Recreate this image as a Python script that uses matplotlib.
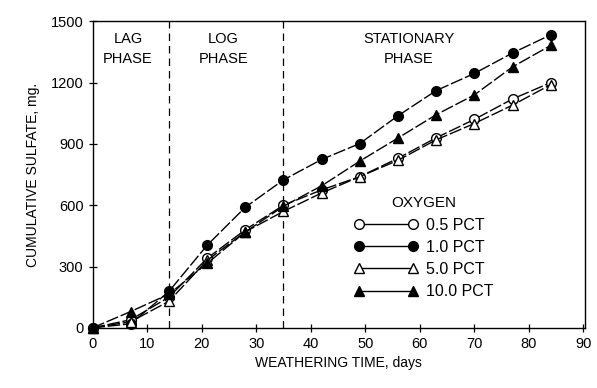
import numpy as np
import matplotlib.pyplot as plt

plt.rcParams['font.family'] = ['Liberation Sans', 'DejaVu Sans']

### DATA ###
days = [0, 7, 14, 21, 28, 35, 42, 49, 56, 63, 70, 77, 84]
pct_05 = [0, 40, 150, 340, 480, 600, 675, 740, 830, 930, 1020, 1120, 1200]
pct_10 = [0, 20, 178, 404, 590, 724, 824, 902, 1038, 1161, 1245, 1345, 1434]
pct_50 = [0, 30, 130, 330, 470, 570, 660, 740, 820, 920, 1000, 1090, 1190]
pct_100 = [0, 80, 165, 315, 469, 595, 695, 816, 929, 1043, 1140, 1277, 1382]

series = [
    ('0.5 PCT', pct_05, 'o', 'white'),
    ('1.0 PCT', pct_10, 'o', 'black'),
    ('5.0 PCT', pct_50, '^', 'white'),
    ('10.0 PCT', pct_100, '^', 'black'),
]

phase_bounds = [14, 35]
phase_labels = [(6.5, 'LAG\nPHASE'), (24, 'LOG\nPHASE'), (58, 'STATIONARY\nPHASE')]

### PLOT ###
fig = plt.figure(figsize=(5.97, 3.88), dpi=100)
ax = fig.add_axes([0.155, 0.155, 0.825, 0.79])

for label, vals, mk, fc in series:
    ax.plot(days, vals, linestyle=(0, (9, 2)), color='black', lw=1.0,
            marker=mk, markersize=7, markerfacecolor=fc,
            markeredgecolor='black', markeredgewidth=1.0,
            label=label, clip_on=False, zorder=3)

for xb in phase_bounds:
    ax.axvline(xb, color='black', lw=0.9, linestyle=(0, (6, 4)))

for xt, txt in phase_labels:
    ax.text(xt, 1450, txt, ha='center', va='top', fontsize=10.5, linespacing=1.6)

ax.set_xlim(0, 90.3)
ax.set_ylim(0, 1500)
ax.set_xticks(np.arange(0, 91, 10))
ax.set_yticks(np.arange(0, 1501, 300))
ax.tick_params(direction='inout', length=6, width=0.9, labelsize=10.5)
for s in ax.spines.values():
    s.set_linewidth(1.0)

ax.set_xlabel('WEATHERING TIME, days', fontsize=10)
ax.set_ylabel('CUMULATIVE SULFATE, mg.', fontsize=10, labelpad=8)

leg = ax.legend(loc='upper left', bbox_to_anchor=(0.515, 0.455), frameon=False,
                numpoints=2, handlelength=4.0, title='OXYGEN', fontsize=11.5,
                title_fontsize=11, labelspacing=0.45, handletextpad=0.5,
                borderpad=0.0)
for h in leg.legend_handles:
    h.set_linestyle('-')

fig.savefig('out.png', dpi=100)
